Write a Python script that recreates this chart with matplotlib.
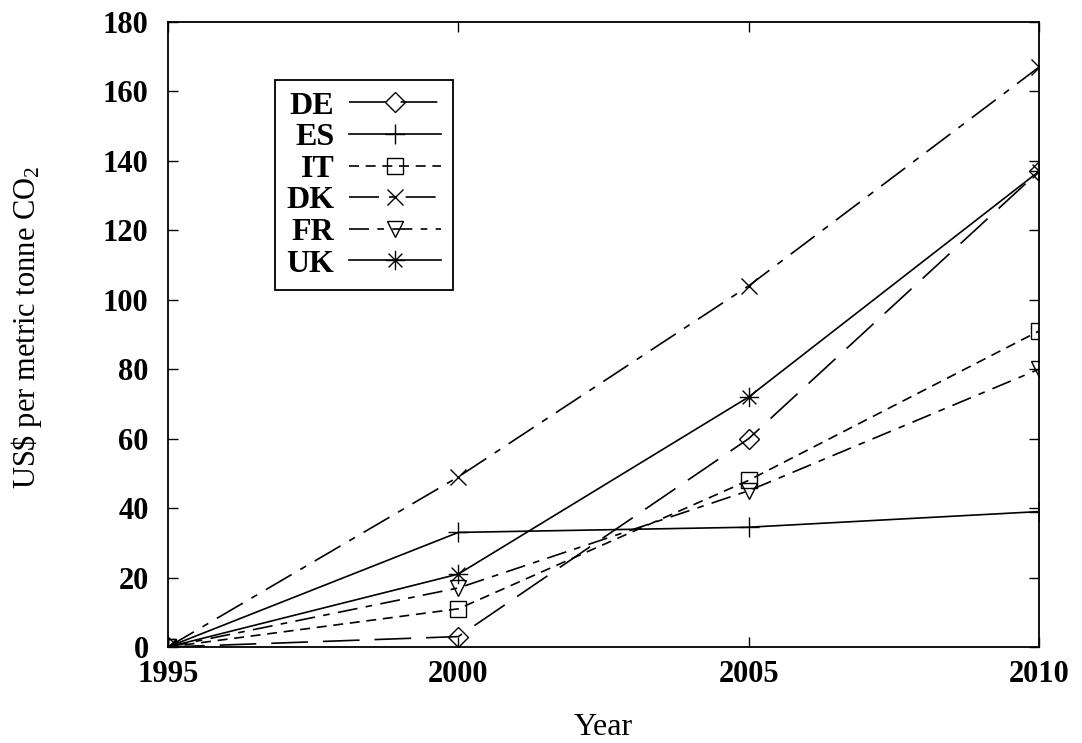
import matplotlib
matplotlib.use("Agg")
import matplotlib.pyplot as plt
from matplotlib.path import Path

plt.rcParams['font.family'] = ['Liberation Serif', 'DejaVu Serif']
plt.rcParams['mathtext.fontset'] = 'custom'
plt.rcParams['mathtext.rm'] = 'Liberation Serif'
plt.rcParams['mathtext.it'] = 'Liberation Serif:italic'
plt.rcParams['mathtext.bf'] = 'Liberation Serif:bold'

years = [1995, 2000, 2005, 2010]
countries = ["DE", "ES", "IT", "DK", "FR", "UK"]
DE = [0, 3, 60, 137]
ES = [0, 33, 34.5, 39]
IT = [0, 11, 48, 91]
DK = [0, 49, 104, 167]
FR = [0, 17, 45, 80]
UK = [0, 21, 72, 137]
xticks = [1995, 2000, 2005, 2010]
yticks = [0, 20, 40, 60, 80, 100, 120, 140, 160, 180]

# asterisk marker (plus + cross)
r = 1.0
d = 0.7071
ast_verts = [(-r, 0), (r, 0), (0, -r), (0, r), (-d, -d), (d, d), (-d, d), (d, -d)]
ast_codes = [Path.MOVETO, Path.LINETO] * 4
asterisk = Path(ast_verts, ast_codes)

styles = {
    "DE": dict(ls=(0, (22, 9)), marker='D', ms=10),
    "ES": dict(ls='-', marker='+', ms=14),
    "IT": dict(ls=(0, (6, 4)), marker='s', ms=12),
    "DK": dict(ls=(0, (18, 6, 4, 6)), marker='x', ms=12),
    "FR": dict(ls=(0, (12, 5, 4, 5)), marker='v', ms=12),
    "UK": dict(ls='-', marker=asterisk, ms=14),
}
series = {"DE": DE, "ES": ES, "IT": IT, "DK": DK, "FR": FR, "UK": UK}

fig = plt.figure(figsize=(10.82, 7.43), dpi=100)
L, R, B, T = 168 / 1082, 1039 / 1082, 1 - 647 / 743, 1 - 22 / 743
ax = fig.add_axes([L, B, R - L, T - B])

for c in countries:
    st = styles[c]
    ax.plot(years, series[c], color='black', lw=1.2, linestyle=st['ls'],
            marker=st['marker'], ms=st['ms'], mfc='none', mec='black', mew=1.0,
            label=c)

ax.set_xlim(1995, 2010)
ax.set_ylim(0, 180)
ax.set_xticks(xticks)
ax.set_yticks(yticks)
ax.tick_params(direction='in', length=7, width=1, top=True, right=True,
               labelsize=22)
ax.tick_params(axis='x', pad=9)
ax.tick_params(axis='y', pad=14)
for lab in ax.get_xticklabels() + ax.get_yticklabels():
    lab.set_fontweight('bold')
for s in ax.spines.values():
    s.set_linewidth(1.3)

ax.set_xlabel("Year", fontsize=23)
ax.xaxis.set_label_coords(0.5, -0.105)
ax.set_ylabel("US\\$ per metric tonne CO$_2$", fontsize=22)
ax.yaxis.set_label_coords(-0.142, 0.512)

leg = ax.legend(loc='upper left', bbox_to_anchor=(107 / 871, 1 - 58 / 625), markerfirst=False,
                frameon=True, fancybox=False, framealpha=1, edgecolor='black',
                prop=dict(family='Liberation Serif', weight='bold', size=23),
                handlelength=2.9, labelspacing=0.07, handletextpad=0.45,
                borderpad=0.35, borderaxespad=0)
leg.get_frame().set_linewidth(1.3)

fig.savefig("out.png", dpi=100)
